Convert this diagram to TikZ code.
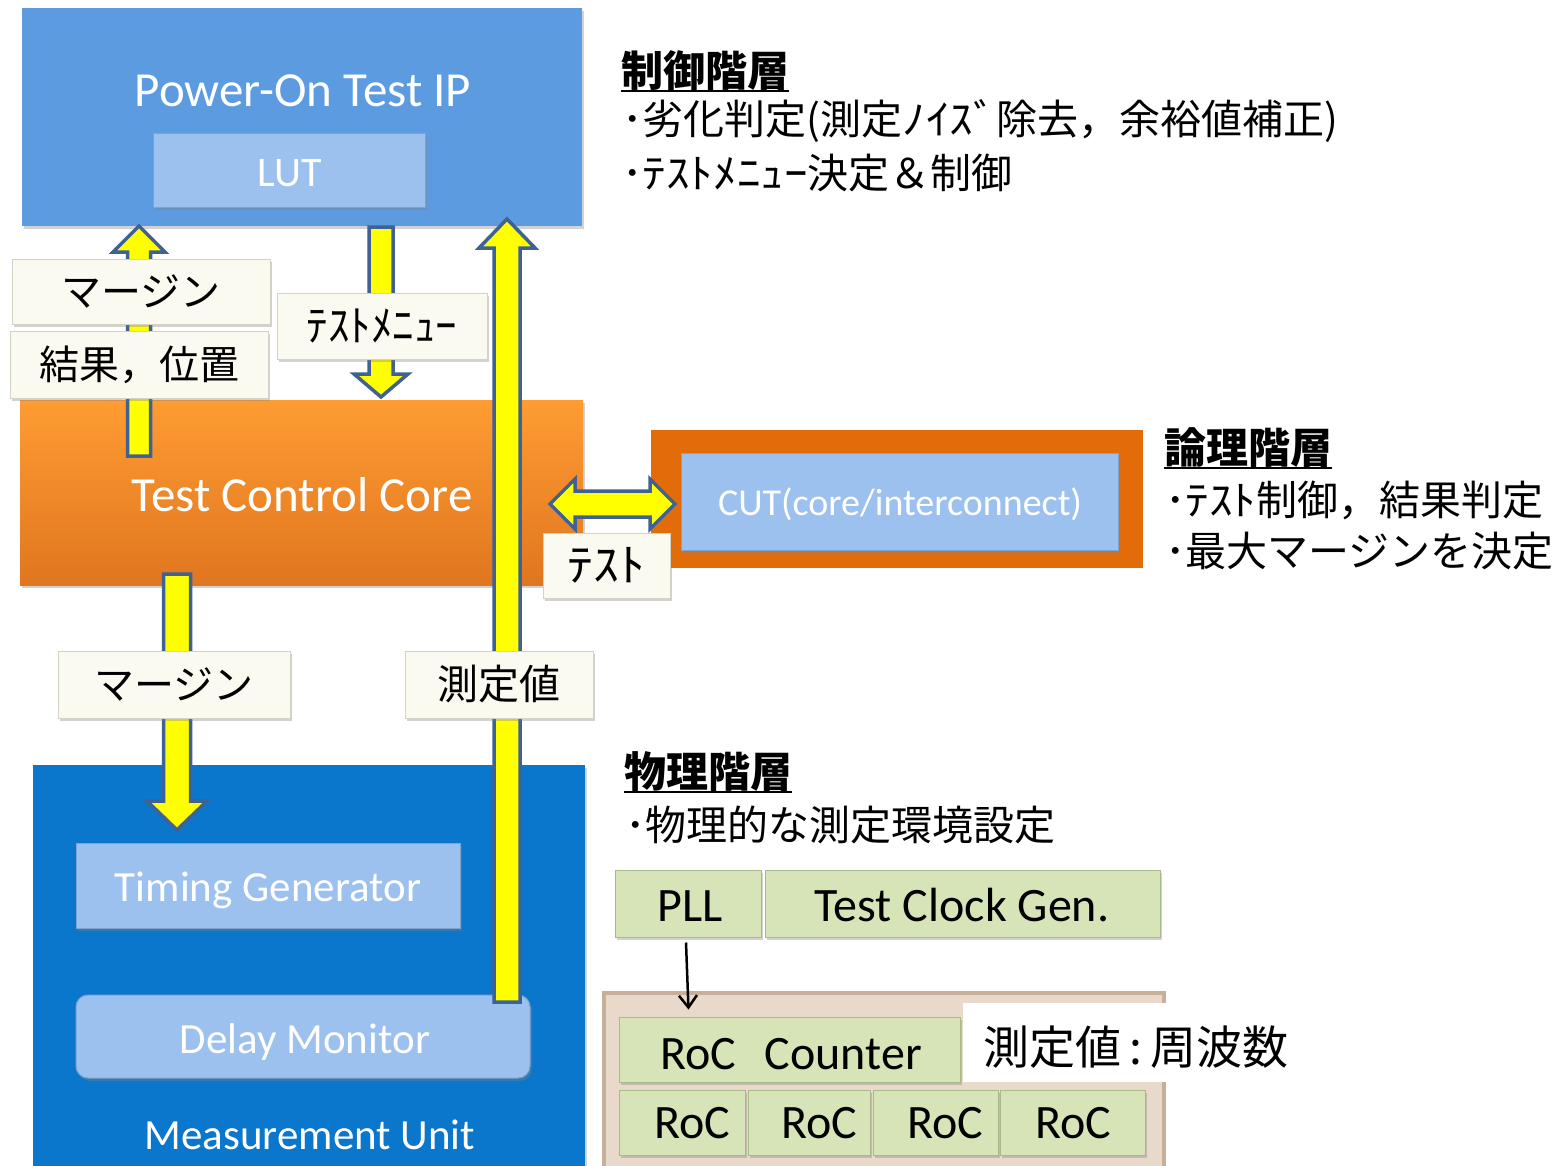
\documentclass[tikz,border=0pt]{standalone}
\usepackage{fontspec}
\setmainfont{Carlito}
\newfontfamily\jp{Noto Sans CJK JP}
\newfontfamily\jpw[FakeStretch=1.15]{Noto Sans CJK JP}
\usetikzlibrary{calc,shadows,arrows.meta}
\definecolor{powblue}{HTML}{5C9BE0}
\definecolor{lightblue}{HTML}{9CC1EF}
\definecolor{lightborder}{HTML}{7FA3D0}
\definecolor{orangetop}{HTML}{FE9C33}
\definecolor{orangebot}{HTML}{E0761F}
\definecolor{cutorange}{HTML}{E36C0A}
\definecolor{mublue}{HTML}{0B77CC}
\definecolor{cream}{HTML}{FBFAF0}
\definecolor{creamborder}{HTML}{D4D2C4}
\definecolor{greenfill}{HTML}{D6E4B8}
\definecolor{greenborder}{HTML}{A8B98A}
\definecolor{tanfill}{HTML}{E9D9CB}
\definecolor{tanborder}{HTML}{C7AF9A}
\definecolor{arrowblue}{HTML}{3F6193}
\definecolor{arrowyellow}{HTML}{FFFF00}
\tikzset{
  shad/.style={drop shadow={shadow xshift=2pt,shadow yshift=-3pt,opacity=0.35}},
  bigbox/.style={inner sep=0pt, shad},
  lbl/.style={draw=creamborder, line width=1pt, fill=cream, shad, inner sep=0pt,
    font=\jp\fontsize{40}{48}\selectfont},
  greenbox/.style={draw=greenborder, line width=1pt, fill=greenfill, shad, inner sep=0pt},
  bluebox/.style={draw=lightborder, line width=1pt, fill=lightblue, shad, inner sep=0pt},
  blk/.style={fill=arrowyellow, draw=arrowblue, line width=3.5pt, line join=miter},
  wtxt/.style={text=white, inner sep=0pt, anchor=base},
  btxt/.style={text=black, inner sep=0pt, anchor=base, font=\fontsize{48}{56}\selectfont},
  jtxt/.style={font=\jp\fontsize{41}{50}\selectfont, anchor=west, inner sep=0pt},
  jhead/.style={font=\jp\bfseries\fontsize{42}{50}\selectfont, anchor=west, inner sep=0pt},
}
% #1 start, #2 end, #3 shaft half width, #4 head half width, #5 head length, #6 tag
\newcommand\blockarrow[6]{%
  \path ($(#2)!#5!(#1)$) coordinate (#6h);
  \draw[blk] ($(#1)!#3!90:(#2)$) -- ($(#6h)!#3!90:(#2)$) -- ($(#6h)!#4!90:(#2)$)
    -- (#2) -- ($(#6h)!#4!-90:(#2)$) -- ($(#6h)!#3!-90:(#2)$) -- ($(#1)!#3!-90:(#2)$) -- cycle;}
\begin{document}
\begin{tikzpicture}[x=1pt,y=-1pt]
\useasboundingbox (0,0) rectangle (1560,1165);
\clip (0,0) rectangle (1560,1165);
\fill[white] (0,0) rectangle (1560,1165);

% ---- big boxes
\node[bigbox, fill=powblue, minimum width=560pt, minimum height=218pt] (pow) at (302,117) {};
\node[wtxt, font=\fontsize{49}{58}\selectfont] (powt) at (303,106) {Power-On Test IP};
\node[bluebox, minimum width=272pt, minimum height=74pt] (lut) at (289,170) {};
\node[wtxt, font=\fontsize{42}{50}\selectfont] (lutt) at (290,186) {LUT};

\node[bigbox, top color=orangetop, bottom color=orangebot, minimum width=563pt, minimum height=185pt] (tcc) at (301.5,492.5) {};
\node[wtxt, font=\fontsize{49}{58}\selectfont] (tcct) at (302,511) {Test Control Core};

\node[bigbox, fill=mublue, minimum width=552pt, minimum height=420pt] (mu) at (309,975) {};
\node[wtxt, font=\fontsize{43}{50}\selectfont] (mut) at (310,1149) {Measurement Unit};
\node[bluebox, minimum width=384pt, minimum height=85pt] (tg) at (268,885.5) {};
\node[wtxt, font=\fontsize{43}{50}\selectfont] (tgt) at (268,901) {Timing Generator};
\node[bluebox, rounded corners=12pt, minimum width=454pt, minimum height=83pt] (dm) at (303,1036.5) {};
\node[wtxt, font=\fontsize{43}{50}\selectfont] (dmt) at (305,1053) {Delay Monitor};

\node[inner sep=0pt, fill=cutorange, minimum width=492pt, minimum height=138pt] (cutout) at (897,499) {};
\node[bluebox, minimum width=437pt, minimum height=97pt] (cut) at (899.5,501.5) {};
\node[wtxt, font=\fontsize{38}{45}\selectfont] (cutt) at (900,515) {CUT(core/interconnect)};

% ---- block arrows
\coordinate (a1s) at (139,456); \coordinate (a1e) at (139,226);
\blockarrow{a1s}{a1e}{11.5pt}{26pt}{26pt}{a1}
\coordinate (a2s) at (381,227); \coordinate (a2e) at (381,397);
\blockarrow{a2s}{a2e}{12pt}{27pt}{23pt}{a2}
\coordinate (a3s) at (507,1002); \coordinate (a3e) at (507,219);
\blockarrow{a3s}{a3e}{13pt}{28pt}{29pt}{a3}
\coordinate (a4s) at (177,574); \coordinate (a4e) at (177,830);
\blockarrow{a4s}{a4e}{13.5pt}{30pt}{29pt}{a4}
\coordinate (a5l) at (550,504); \coordinate (a5r) at (675,504);
\draw[blk] (a5l) -- ($(a5l)+(25,-25)$) -- ($(a5l)+(25,-13)$) -- ($(a5r)+(-25,-13)$) -- ($(a5r)+(-25,-25)$)
  -- (a5r) -- ($(a5r)+(-25,25)$) -- ($(a5r)+(-25,13)$) -- ($(a5l)+(25,13)$) -- ($(a5l)+(25,25)$) -- cycle;

% ---- labels
\node[lbl, minimum width=258pt, minimum height=65pt] (lm1) at (141,291.5) {マージン};
\node[lbl, minimum width=258pt, minimum height=67pt] (lres) at (139,364.5) {結果，位置};
\node[lbl, minimum width=210pt, minimum height=66pt, font=\jp\fontsize{43}{50}\selectfont] (lmenu) at (382,326) {ﾃｽﾄﾒﾆｭｰ};
\node[lbl, minimum width=127pt, minimum height=65pt, font=\jpw\fontsize{45}{50}\selectfont] (ltest) at (606.5,565.5) {ﾃｽﾄ};
\node[lbl, minimum width=232pt, minimum height=67pt] (lm2) at (174,684.5) {マージン};
\node[lbl, minimum width=188pt, minimum height=67pt, font=\jp\fontsize{41}{48}\selectfont] (lmeas) at (499,684.5) {測定値};

% ---- right texts
\node[jhead] (h1) at (621,71) {制御階層};
\draw[line width=2.5pt] (h1.south west) -- (h1.south east);
\node[jtxt] (t1) at (622,121) {･劣化判定(測定{\jpw ﾉｲｽﾞ}除去，余裕値補正)};
\node[jtxt] (t2) at (622,173) {･{\jpw ﾃｽﾄﾒﾆｭｰ}決定＆制御};
\node[jhead] (h2) at (1164,448) {論理階層};
\draw[line width=2.5pt] (h2.south west) -- (h2.south east);
\node[jtxt] (t3) at (1165,500) {･{\jpw ﾃｽﾄ}制御，結果判定};
\node[jtxt] (t4) at (1165,551) {･最大マージンを決定};
\node[jhead] (h3) at (624,772) {物理階層};
\draw[line width=2.5pt] (h3.south west) -- (h3.south east);
\node[jtxt] (t5) at (625,825) {･物理的な測定環境設定};

% ---- physical layer blocks
\node[greenbox, minimum width=146pt, minimum height=67pt] (pll) at (688,903.5) {};
\node[btxt] (pllt) at (690,921) {PLL};
\node[greenbox, minimum width=395pt, minimum height=67pt] (tcg) at (962.5,903.5) {};
\node[btxt] (tcgt) at (962,921) {Test Clock Gen.};

\node[inner sep=0pt, fill=tanfill, draw=tanborder, line width=4pt, minimum width=560pt, minimum height=190pt] (frame) at (884,1088) {};
\node[greenbox, minimum width=341pt, minimum height=65pt] (rocc) at (789.5,1049.5) {};
\node[btxt] (rocct) at (791,1069) {RoC\hspace{0.6em}Counter};
\node[inner sep=0pt, fill=white, minimum width=340pt, minimum height=79pt] (mbox) at (1133,1042.5) {};
\node[jtxt, font=\jp\fontsize{46}{55}\selectfont] (mtxt) at (983,1047) {測定値\hspace{0.18em}:\hspace{0.18em}周波数};
\node[greenbox, minimum width=126pt, minimum height=65pt] (r1) at (682,1122.5) {};
\node[greenbox, minimum width=122pt, minimum height=65pt] (r2) at (809,1122.5) {};
\node[greenbox, minimum width=125pt, minimum height=65pt] (r3) at (935.5,1122.5) {};
\node[greenbox, minimum width=145pt, minimum height=65pt] (r4) at (1072.5,1122.5) {};
\node[btxt] (r1t) at (692,1138) {RoC};
\node[btxt] (r2t) at (819,1138) {RoC};
\node[btxt] (r3t) at (945,1138) {RoC};
\node[btxt] (r4t) at (1073,1138) {RoC};

\draw[line width=2.5pt, -{Straight Barb[length=12pt,width=18pt]}] ([xshift=-2pt,yshift=-5pt]pll.south) -- ([xshift=-101pt,yshift=7pt]rocc.north);
\end{tikzpicture}
\end{document}
